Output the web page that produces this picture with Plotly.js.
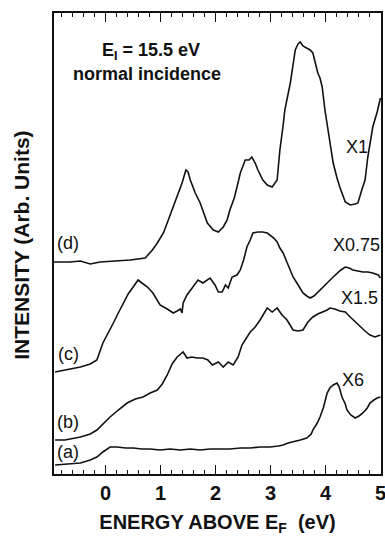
<!DOCTYPE html>
<html><head><meta charset="utf-8">
<script src="https://cdn.plot.ly/plotly-3.0.1.min.js"></script>
<style>html,body{margin:0;padding:0;background:#fff}#chart{width:385px;height:536px}</style>
</head><body><div id="chart"></div>
<script>
// Energy above E_F (eV) and intensity (arb. units, offset per curve)
const dEnergy = [-0.94,-0.65,-0.46,-0.28,-0.10,0.17,0.45,0.72,0.85,0.94,1.05,1.14,1.23,1.32,1.39,1.46,1.50,1.54,1.63,1.72,1.79,1.85,1.96,2.05,2.14,2.21,2.26,2.34,2.39,2.45,2.54,2.61,2.66,2.72,2.77,2.86,2.94,3.03,3.12,3.17,3.23,3.26,3.36,3.41,3.45,3.50,3.54,3.59,3.66,3.72,3.77,3.83,3.86,3.90,3.94,3.99,4.05,4.08,4.14,4.21,4.26,4.36,4.45,4.54,4.59,4.66,4.72,4.77,4.86,4.94,5.0];
const dIntensity = [212,212,213,210,212,213,214,216,224,231,241,254,267,281,291,304,302,294,281,271,260,251,244,242,247,254,264,276,287,301,314,314,317,311,304,294,289,287,294,324,349,364,391,412,424,430,432,428,426,424,421,409,401,396,387,364,344,331,311,296,287,272,269,270,271,284,294,317,347,362,376];

const cEnergy = [-0.92,-0.74,-0.46,-0.28,-0.16,-0.05,0.05,0.14,0.23,0.32,0.41,0.50,0.59,0.66,0.76,0.86,0.94,0.99,1.12,1.23,1.30,1.36,1.39,1.41,1.48,1.59,1.68,1.77,1.90,1.99,2.05,2.12,2.18,2.23,2.30,2.39,2.45,2.51,2.57,2.63,2.68,2.77,2.86,2.94,2.99,3.06,3.12,3.17,3.23,3.30,3.36,3.41,3.48,3.54,3.59,3.66,3.72,3.79,3.85,3.94,4.03,4.12,4.21,4.28,4.36,4.43,4.50,4.59,4.68,4.77,4.86,4.96,5.0];
const cIntensity = [102,104,107,110,114,131,141,151,161,171,180,187,194,191,187,181,174,169,165,161,163,165,161,171,179,187,194,191,196,189,182,182,189,186,197,199,204,214,227,234,241,242,242,241,239,236,232,226,221,212,204,197,191,186,181,178,176,178,181,186,191,196,201,204,207,206,204,203,202,202,201,199,196];

const bEnergy = [-0.92,-0.74,-0.46,-0.28,-0.16,-0.05,0.08,0.23,0.39,0.54,0.68,0.81,0.94,1.03,1.12,1.21,1.30,1.41,1.48,1.57,1.66,1.77,1.86,1.94,2.05,2.14,2.23,2.32,2.41,2.48,2.63,2.72,2.81,2.94,3.03,3.12,3.21,3.30,3.36,3.41,3.50,3.59,3.68,3.77,3.86,3.96,4.03,4.08,4.17,4.26,4.36,4.45,4.54,4.63,4.72,4.81,4.90,5.0];
const bIntensity = [34,34,37,40,44,50,57,64,71,75,77,81,84,90,99,110,117,122,116,117,116,116,114,109,112,107,112,109,117,129,142,147,154,166,162,166,159,154,149,144,143,144,152,157,160,162,164,166,165,163,162,157,152,147,143,139,137,139];

const aEnergy = [-0.92,-0.65,-0.46,-0.28,-0.16,-0.05,0.08,0.21,0.36,0.50,0.66,0.81,0.99,1.17,1.36,1.54,1.72,1.90,2.08,2.26,2.45,2.63,2.81,2.99,3.14,3.23,3.32,3.41,3.54,3.66,3.74,3.77,3.85,3.90,3.96,4.03,4.08,4.14,4.21,4.25,4.30,4.36,4.39,4.46,4.54,4.61,4.68,4.76,4.81,4.88,4.94,5.0];
const aIntensity = [9,10,11,14,17,22,27,27,26,26,25,25,24,25,24,25,24,25,25,25,26,26,27,27,28,29,31,32,34,36,40,44,51,57,66,81,86,89,91,87,77,70,64,59,56,58,61,66,71,74,76,77];

const curveLabels = ['(d)','(c)','(b)','(a)'];
const curveLabelY = [231,120,52,22];
const scaleLabels = ['X1','X0.75','X1.5','X6'];
const scaleLabelX = [4.57,4.57,4.61,4.50];
const scaleLabelY = [327,229,176,94];
const xTickVals = [0,1,2,3,4,5];

const line = {color:'#111', width:1.6};
const traces = [
  {x:dEnergy,y:dIntensity},{x:cEnergy,y:cIntensity},
  {x:bEnergy,y:bIntensity},{x:aEnergy,y:aIntensity}
].map(t=>Object.assign(t,{type:'scatter',mode:'lines',line:line,hoverinfo:'skip',showlegend:false}));

const font = {family:'Arial, "Liberation Sans", sans-serif', color:'#111'};
const ann = [];
curveLabels.forEach((t,i)=>ann.push({x:-0.68,y:curveLabelY[i],xref:'x',yref:'y',text:t,showarrow:false,font:Object.assign({},font,{size:18})}));
scaleLabels.forEach((t,i)=>ann.push({x:scaleLabelX[i],y:scaleLabelY[i],xref:'x',yref:'y',text:t,showarrow:false,font:Object.assign({},font,{size:18})}));
ann.push({x:-0.10,y:423,xref:'x',yref:'y',text:'E<sub>I</sub> = 15.5 eV',showarrow:false,xanchor:'left',font:Object.assign({},font,{size:18,weight:'bold'})});
ann.push({x:-0.63,y:400,xref:'x',yref:'y',text:'normal incidence',showarrow:false,xanchor:'left',font:Object.assign({},font,{size:18,weight:'bold'})});
ann.push({x:-0.098,y:0.497,xref:'paper',yref:'paper',xanchor:'center',yanchor:'middle',text:'INTENSITY (Arb. Units)',textangle:-90,showarrow:false,font:Object.assign({},font,{size:21,weight:'bold'})});

const layout = {
  width:385,height:536,
  margin:{l:54,r:4,t:13,b:62},
  paper_bgcolor:'#fff',plot_bgcolor:'#fff',
  xaxis:{range:[-0.94,5.01],showgrid:false,zeroline:false,showline:true,linecolor:'#111',linewidth:1.8,mirror:'allticks',
    ticks:'inside',ticklen:9,tickwidth:1.4,tickcolor:'#111',tickvals:xTickVals,ticklabeloverflow:'allow',
    tickfont:Object.assign({},font,{size:20,weight:'bold'}),
    minor:{dtick:0.2,ticks:'inside',ticklen:4,tickwidth:1,tickcolor:'#111',showgrid:false},
    title:{text:'ENERGY ABOVE E<sub>F</sub>  (eV)',font:Object.assign({},font,{size:20,weight:'bold'}),standoff:14}},
  yaxis:{range:[0,461],showgrid:false,zeroline:false,showline:true,linecolor:'#111',linewidth:1.8,mirror:true,showticklabels:false,ticks:''},
  annotations:ann
};
Plotly.newPlot('chart',traces,layout,{staticPlot:true});
</script></body></html>
